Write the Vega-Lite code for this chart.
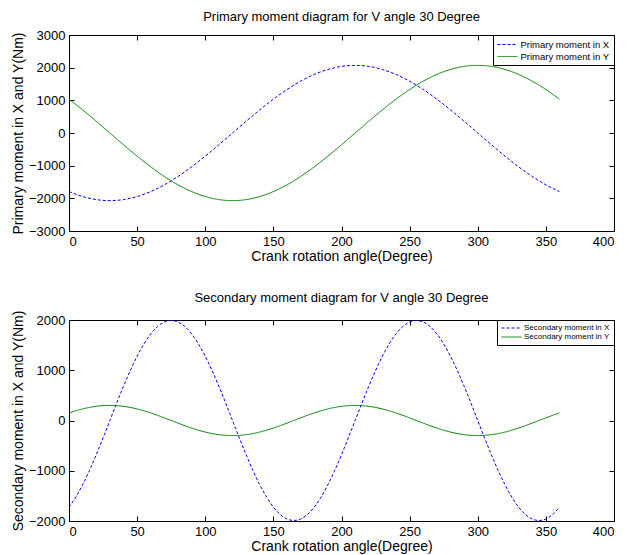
{
  "$schema": "https://vega.github.io/schema/vega-lite/v6.json",
  "background": "white",
  "padding": {"left": 10, "top": 10, "right": 5, "bottom": 5},
  "bounds": "flush",
  "spacing": 89,
  "resolve": {"scale": {"color": "independent", "strokeDash": "independent"}, "legend": {"color": "independent", "strokeDash": "independent"}},
  "config": {
    "font": "Liberation Sans",
    "view": {"stroke": "black", "strokeWidth": 1},
    "axis": {
      "grid": false,
      "labelFont": "Liberation Sans",
      "labelFontSize": 13,
      "labelColor": "black",
      "titleFont": "Liberation Sans",
      "titleFontSize": 14,
      "titleFontWeight": "normal",
      "titleColor": "black",
      "domainColor": "black",
      "tickColor": "black",
      "tickSize": -5,
      "labelPadding": 9,
      "format": "d"
    },
    "title": {"fontSize": 13, "fontWeight": "normal", "color": "black", "font": "Liberation Sans", "offset": 5},
    "legend": {
      "orient": "top-right",
      "offset": 0,
      "strokeColor": "black",
      "fillColor": "white",
      "padding": 4,
      "labelColor": "black",
      "labelFont": "Liberation Sans",
      "symbolStrokeWidth": 1,
      "title": null,
      "cornerRadius": 0
    }
  },
  "datasets": {
    "primary": [
      {"a": 0, "Primary moment in X": -1793, "Primary moment in Y": 1035},
      {"a": 10, "Primary moment in X": -1945, "Primary moment in Y": 708},
      {"a": 20, "Primary moment in X": -2039, "Primary moment in Y": 359},
      {"a": 30, "Primary moment in X": -2070, "Primary moment in Y": 0},
      {"a": 40, "Primary moment in X": -2039, "Primary moment in Y": -359},
      {"a": 50, "Primary moment in X": -1945, "Primary moment in Y": -708},
      {"a": 60, "Primary moment in X": -1793, "Primary moment in Y": -1035},
      {"a": 70, "Primary moment in X": -1586, "Primary moment in Y": -1331},
      {"a": 80, "Primary moment in X": -1331, "Primary moment in Y": -1586},
      {"a": 90, "Primary moment in X": -1035, "Primary moment in Y": -1793},
      {"a": 100, "Primary moment in X": -708, "Primary moment in Y": -1945},
      {"a": 110, "Primary moment in X": -359, "Primary moment in Y": -2039},
      {"a": 120, "Primary moment in X": 0, "Primary moment in Y": -2070},
      {"a": 130, "Primary moment in X": 359, "Primary moment in Y": -2039},
      {"a": 140, "Primary moment in X": 708, "Primary moment in Y": -1945},
      {"a": 150, "Primary moment in X": 1035, "Primary moment in Y": -1793},
      {"a": 160, "Primary moment in X": 1331, "Primary moment in Y": -1586},
      {"a": 170, "Primary moment in X": 1586, "Primary moment in Y": -1331},
      {"a": 180, "Primary moment in X": 1793, "Primary moment in Y": -1035},
      {"a": 190, "Primary moment in X": 1945, "Primary moment in Y": -708},
      {"a": 200, "Primary moment in X": 2039, "Primary moment in Y": -359},
      {"a": 210, "Primary moment in X": 2070, "Primary moment in Y": 0},
      {"a": 220, "Primary moment in X": 2039, "Primary moment in Y": 359},
      {"a": 230, "Primary moment in X": 1945, "Primary moment in Y": 708},
      {"a": 240, "Primary moment in X": 1793, "Primary moment in Y": 1035},
      {"a": 250, "Primary moment in X": 1586, "Primary moment in Y": 1331},
      {"a": 260, "Primary moment in X": 1331, "Primary moment in Y": 1586},
      {"a": 270, "Primary moment in X": 1035, "Primary moment in Y": 1793},
      {"a": 280, "Primary moment in X": 708, "Primary moment in Y": 1945},
      {"a": 290, "Primary moment in X": 359, "Primary moment in Y": 2039},
      {"a": 300, "Primary moment in X": 0, "Primary moment in Y": 2070},
      {"a": 310, "Primary moment in X": -359, "Primary moment in Y": 2039},
      {"a": 320, "Primary moment in X": -708, "Primary moment in Y": 1945},
      {"a": 330, "Primary moment in X": -1035, "Primary moment in Y": 1793},
      {"a": 340, "Primary moment in X": -1331, "Primary moment in Y": 1586},
      {"a": 350, "Primary moment in X": -1586, "Primary moment in Y": 1331},
      {"a": 360, "Primary moment in X": -1793, "Primary moment in Y": 1035}
    ],
    "secondary": [
      {"a": 0, "Secondary moment in X": -1723, "Secondary moment in Y": 150},
      {"a": 5, "Secondary moment in X": -1524, "Secondary moment in Y": 193},
      {"a": 10, "Secondary moment in X": -1279, "Secondary moment in Y": 230},
      {"a": 15, "Secondary moment in X": -995, "Secondary moment in Y": 260},
      {"a": 20, "Secondary moment in X": -681, "Secondary moment in Y": 282},
      {"a": 25, "Secondary moment in X": -346, "Secondary moment in Y": 295},
      {"a": 30, "Secondary moment in X": 0, "Secondary moment in Y": 300},
      {"a": 35, "Secondary moment in X": 346, "Secondary moment in Y": 295},
      {"a": 40, "Secondary moment in X": 681, "Secondary moment in Y": 282},
      {"a": 45, "Secondary moment in X": 995, "Secondary moment in Y": 260},
      {"a": 50, "Secondary moment in X": 1279, "Secondary moment in Y": 230},
      {"a": 55, "Secondary moment in X": 1524, "Secondary moment in Y": 193},
      {"a": 60, "Secondary moment in X": 1723, "Secondary moment in Y": 150},
      {"a": 65, "Secondary moment in X": 1870, "Secondary moment in Y": 103},
      {"a": 70, "Secondary moment in X": 1960, "Secondary moment in Y": 52},
      {"a": 75, "Secondary moment in X": 1990, "Secondary moment in Y": 0},
      {"a": 80, "Secondary moment in X": 1960, "Secondary moment in Y": -52},
      {"a": 85, "Secondary moment in X": 1870, "Secondary moment in Y": -103},
      {"a": 90, "Secondary moment in X": 1723, "Secondary moment in Y": -150},
      {"a": 95, "Secondary moment in X": 1524, "Secondary moment in Y": -193},
      {"a": 100, "Secondary moment in X": 1279, "Secondary moment in Y": -230},
      {"a": 105, "Secondary moment in X": 995, "Secondary moment in Y": -260},
      {"a": 110, "Secondary moment in X": 681, "Secondary moment in Y": -282},
      {"a": 115, "Secondary moment in X": 346, "Secondary moment in Y": -295},
      {"a": 120, "Secondary moment in X": 0, "Secondary moment in Y": -300},
      {"a": 125, "Secondary moment in X": -346, "Secondary moment in Y": -295},
      {"a": 130, "Secondary moment in X": -681, "Secondary moment in Y": -282},
      {"a": 135, "Secondary moment in X": -995, "Secondary moment in Y": -260},
      {"a": 140, "Secondary moment in X": -1279, "Secondary moment in Y": -230},
      {"a": 145, "Secondary moment in X": -1524, "Secondary moment in Y": -193},
      {"a": 150, "Secondary moment in X": -1723, "Secondary moment in Y": -150},
      {"a": 155, "Secondary moment in X": -1870, "Secondary moment in Y": -103},
      {"a": 160, "Secondary moment in X": -1960, "Secondary moment in Y": -52},
      {"a": 165, "Secondary moment in X": -1990, "Secondary moment in Y": 0},
      {"a": 170, "Secondary moment in X": -1960, "Secondary moment in Y": 52},
      {"a": 175, "Secondary moment in X": -1870, "Secondary moment in Y": 103},
      {"a": 180, "Secondary moment in X": -1723, "Secondary moment in Y": 150},
      {"a": 185, "Secondary moment in X": -1524, "Secondary moment in Y": 193},
      {"a": 190, "Secondary moment in X": -1279, "Secondary moment in Y": 230},
      {"a": 195, "Secondary moment in X": -995, "Secondary moment in Y": 260},
      {"a": 200, "Secondary moment in X": -681, "Secondary moment in Y": 282},
      {"a": 205, "Secondary moment in X": -346, "Secondary moment in Y": 295},
      {"a": 210, "Secondary moment in X": 0, "Secondary moment in Y": 300},
      {"a": 215, "Secondary moment in X": 346, "Secondary moment in Y": 295},
      {"a": 220, "Secondary moment in X": 681, "Secondary moment in Y": 282},
      {"a": 225, "Secondary moment in X": 995, "Secondary moment in Y": 260},
      {"a": 230, "Secondary moment in X": 1279, "Secondary moment in Y": 230},
      {"a": 235, "Secondary moment in X": 1524, "Secondary moment in Y": 193},
      {"a": 240, "Secondary moment in X": 1723, "Secondary moment in Y": 150},
      {"a": 245, "Secondary moment in X": 1870, "Secondary moment in Y": 103},
      {"a": 250, "Secondary moment in X": 1960, "Secondary moment in Y": 52},
      {"a": 255, "Secondary moment in X": 1990, "Secondary moment in Y": 0},
      {"a": 260, "Secondary moment in X": 1960, "Secondary moment in Y": -52},
      {"a": 265, "Secondary moment in X": 1870, "Secondary moment in Y": -103},
      {"a": 270, "Secondary moment in X": 1723, "Secondary moment in Y": -150},
      {"a": 275, "Secondary moment in X": 1524, "Secondary moment in Y": -193},
      {"a": 280, "Secondary moment in X": 1279, "Secondary moment in Y": -230},
      {"a": 285, "Secondary moment in X": 995, "Secondary moment in Y": -260},
      {"a": 290, "Secondary moment in X": 681, "Secondary moment in Y": -282},
      {"a": 295, "Secondary moment in X": 346, "Secondary moment in Y": -295},
      {"a": 300, "Secondary moment in X": 0, "Secondary moment in Y": -300},
      {"a": 305, "Secondary moment in X": -346, "Secondary moment in Y": -295},
      {"a": 310, "Secondary moment in X": -681, "Secondary moment in Y": -282},
      {"a": 315, "Secondary moment in X": -995, "Secondary moment in Y": -260},
      {"a": 320, "Secondary moment in X": -1279, "Secondary moment in Y": -230},
      {"a": 325, "Secondary moment in X": -1524, "Secondary moment in Y": -193},
      {"a": 330, "Secondary moment in X": -1723, "Secondary moment in Y": -150},
      {"a": 335, "Secondary moment in X": -1870, "Secondary moment in Y": -103},
      {"a": 340, "Secondary moment in X": -1960, "Secondary moment in Y": -52},
      {"a": 345, "Secondary moment in X": -1990, "Secondary moment in Y": 0},
      {"a": 350, "Secondary moment in X": -1960, "Secondary moment in Y": 52},
      {"a": 355, "Secondary moment in X": -1870, "Secondary moment in Y": 103},
      {"a": 360, "Secondary moment in X": -1723, "Secondary moment in Y": 150}
    ]
  },
  "vconcat": [
    {
      "width": 545,
      "height": 196,
      "title": "Primary moment diagram for V angle 30 Degree",
      "data": {"name": "primary"},
      "transform": [{"fold": ["Primary moment in X", "Primary moment in Y"], "as": ["series", "m"]}],
      "resolve": {"axis": {"x": "independent", "y": "independent"}},
      "layer": [
        {
          "mark": {"type": "line", "strokeWidth": 1, "interpolate": "monotone"},
          "encoding": {
            "x": {"field": "a", "type": "quantitative", "scale": {"domain": [0, 400], "nice": false},
                  "axis": {"values": [0, 50, 100, 150, 200, 250, 300, 350, 400], "title": "Crank rotation angle(Degree)", "titlePadding": 1}},
            "y": {"field": "m", "type": "quantitative", "scale": {"domain": [-3000, 3000], "nice": false},
                  "axis": {"values": [-3000, -2000, -1000, 0, 1000, 2000, 3000], "title": "Primary moment in X and Y(Nm)", "titlePadding": 3}},
            "color": {"field": "series", "type": "nominal", "scale": {"domain": ["Primary moment in X", "Primary moment in Y"], "range": ["#0000ff", "#008000"]},
                      "legend": {"labelFontSize": 9.5, "symbolSize": 100, "symbolType": "M-1,0H3", "labelOffset": 12.5, "rowPadding": 2}},
            "strokeDash": {"field": "series", "type": "nominal", "scale": {"domain": ["Primary moment in X", "Primary moment in Y"], "range": [[3, 2], [1, 0]]},
                      "legend": {"labelFontSize": 9.5, "symbolSize": 100, "symbolType": "M-1,0H3", "labelOffset": 12.5, "rowPadding": 2}}
          }
        },
        {
          "mark": {"type": "point", "opacity": 0},
          "encoding": {
            "x": {"field": "a", "type": "quantitative",
                  "axis": {"orient": "top", "values": [0, 50, 100, 150, 200, 250, 300, 350, 400], "labels": false, "title": null, "domain": false}},
            "y": {"field": "m", "type": "quantitative",
                  "axis": {"orient": "right", "values": [-3000, -2000, -1000, 0, 1000, 2000, 3000], "labels": false, "title": null, "domain": false}}
          }
        }
      ]
    },
    {
      "width": 545,
      "height": 201,
      "title": "Secondary moment diagram for V angle 30 Degree",
      "data": {"name": "secondary"},
      "transform": [{"fold": ["Secondary moment in X", "Secondary moment in Y"], "as": ["series", "m"]}],
      "resolve": {"axis": {"x": "independent", "y": "independent"}},
      "layer": [
        {
          "mark": {"type": "line", "strokeWidth": 1, "interpolate": "monotone"},
          "encoding": {
            "x": {"field": "a", "type": "quantitative", "scale": {"domain": [0, 400], "nice": false},
                  "axis": {"values": [0, 50, 100, 150, 200, 250, 300, 350, 400], "title": "Crank rotation angle(Degree)", "titlePadding": 1}},
            "y": {"field": "m", "type": "quantitative", "scale": {"domain": [-2000, 2000], "nice": false},
                  "axis": {"values": [-2000, -1000, 0, 1000, 2000], "title": "Secondary moment in X and Y(Nm)", "titlePadding": 3}},
            "color": {"field": "series", "type": "nominal", "scale": {"domain": ["Secondary moment in X", "Secondary moment in Y"], "range": ["#0000ff", "#008000"]},
                      "legend": {"labelFontSize": 8, "symbolSize": 49, "symbolType": "M-1,0H4.7", "labelOffset": 15, "rowPadding": 1}},
            "strokeDash": {"field": "series", "type": "nominal", "scale": {"domain": ["Secondary moment in X", "Secondary moment in Y"], "range": [[3, 2], [1, 0]]},
                      "legend": {"labelFontSize": 8, "symbolSize": 49, "symbolType": "M-1,0H4.7", "labelOffset": 15, "rowPadding": 1}}
          }
        },
        {
          "mark": {"type": "point", "opacity": 0},
          "encoding": {
            "x": {"field": "a", "type": "quantitative",
                  "axis": {"orient": "top", "values": [0, 50, 100, 150, 200, 250, 300, 350, 400], "labels": false, "title": null, "domain": false}},
            "y": {"field": "m", "type": "quantitative",
                  "axis": {"orient": "right", "values": [-2000, -1000, 0, 1000, 2000], "labels": false, "title": null, "domain": false}}
          }
        }
      ]
    }
  ]
}
